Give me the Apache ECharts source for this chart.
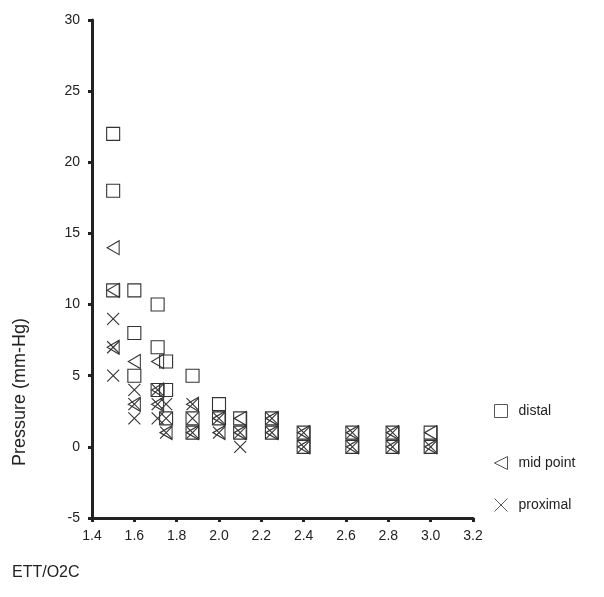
<!DOCTYPE html>
<html>
<head>
<meta charset="utf-8">
<script src="https://cdn.jsdelivr.net/npm/echarts@6/dist/echarts.min.js"></script>
<style>
html,body{margin:0;padding:0;background:#fff;}
#chart{width:604px;height:597px;}
</style>
</head>
<body>
<div id="chart"></div>
<script>
// Data: [ETT/O2C, Pressure]
const distal = [[1.5,22],[1.5,18],[1.5,11],[1.6,11],[1.6,8],[1.6,5],[1.71,10],[1.71,7],[1.71,4],
  [1.75,6],[1.75,4],[1.75,2],[1.875,5],[1.875,2],[1.875,1],[2.0,3],[2.0,2],[2.1,2],[2.1,1],
  [2.25,2],[2.25,1],[2.4,1],[2.4,0],[2.63,1],[2.63,0],[2.82,1],[2.82,0],[3.0,1],[3.0,0]];
const midPoint = [[1.5,14],[1.5,11],[1.5,7],[1.6,6],[1.6,3],[1.71,6],[1.71,4],[1.71,3],[1.75,1],
  [1.875,3],[1.875,1],[2.0,2],[2.0,1],[2.1,2],[2.1,1],[2.25,2],[2.25,1],[2.4,1],[2.4,0],
  [2.63,1],[2.63,0],[2.82,1],[2.82,0],[3.0,1],[3.0,0]];
const proximal = [[1.5,9],[1.5,7],[1.5,5],[1.6,4],[1.6,3],[1.6,2],[1.71,4],[1.71,3],[1.71,2],
  [1.75,3],[1.75,2],[1.75,1],[1.875,3],[1.875,2],[1.875,1],[2.0,2],[2.0,1],[2.1,1],[2.1,0],
  [2.25,2],[2.25,1],[2.4,1],[2.4,0],[2.63,1],[2.63,0],[2.82,1],[2.82,0],[3.0,0]];
const seriesNames = ['distal','mid point','proximal'];
const xTitle = 'ETT/O2C';
const yTitle = 'Pressure (mm-Hg)';

const ink = '#333';
const font = 'Liberation Sans, Arial, sans-serif';
const symbols = {
  'distal': {symbol:'rect', size:13},
  'mid point': {symbol:'path://M0,5L10,0L10,10Z', size:[12,14]},
  'proximal': {symbol:'path://M0,0L10,10M10,0L0,10', size:12}
};
const dataSets = [distal, midPoint, proximal];

const chart = echarts.init(document.getElementById('chart'), null, {renderer:'canvas'});
const legendTops = [404, 456, 498];
chart.setOption({
  backgroundColor:'#fff',
  animation:false,
  grid:{left:92, right:131, top:20, bottom:79, containLabel:false},
  xAxis:{
    type:'value', min:1.4, max:3.2, interval:0.2,
    axisLine:{show:true, onZero:false, lineStyle:{color:'#222', width:3}},
    axisTick:{show:true, length:4, lineStyle:{color:'#222', width:3}},
    axisLabel:{color:'#222', fontSize:14, fontFamily:font, margin:11,
      formatter:v=>v.toFixed(1)},
    splitLine:{show:false}
  },
  yAxis:{
    type:'value', min:-5, max:30, interval:5,
    axisLine:{show:true, onZero:false, lineStyle:{color:'#222', width:3}},
    axisTick:{show:true, length:4, lineStyle:{color:'#222', width:3}},
    axisLabel:{color:'#222', fontSize:14, fontFamily:font, margin:12},
    splitLine:{show:false}
  },
  legend: seriesNames.map((n,i)=>({
    data:[n], orient:'vertical', left:494, top:legendTops[i], padding:0,
    itemWidth:13, itemHeight:13,
    itemStyle:{color:'rgba(0,0,0,0)', borderColor:'#555', borderWidth:1},
    textStyle:{color:'#222', fontSize:14, fontFamily:font, padding:[0,0,0,6]},
    selectedMode:false
  })),
  series: seriesNames.map((n,i)=>({
    name:n, type:'scatter', data:dataSets[i],
    symbol:symbols[n].symbol, symbolSize:symbols[n].size, symbolKeepAspect:true,
    itemStyle:{color:'rgba(0,0,0,0)', borderColor:ink, borderWidth:1.1, opacity:1},
    emphasis:{disabled:true}
  })),
  graphic:[
    {type:'text', left:11, top:318, rotation:Math.PI/2, originX:0, originY:0,
      style:{text:yTitle, fill:'#222', fontSize:18, fontFamily:font}},
    {type:'text', left:12, top:565, style:{text:xTitle, fill:'#222', fontSize:16, fontFamily:font}}
  ]
});
</script>
</body>
</html>
